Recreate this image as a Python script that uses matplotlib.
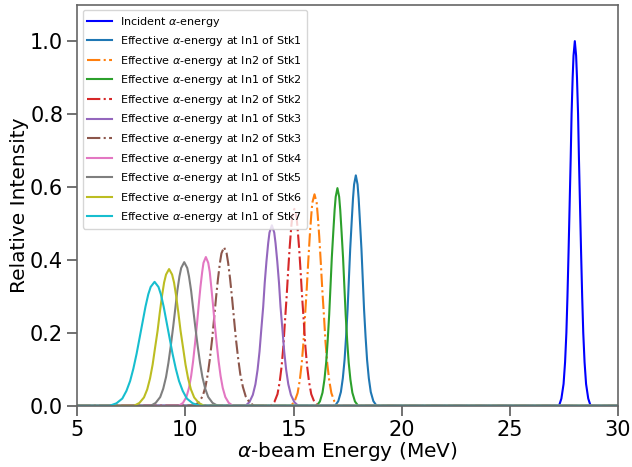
import numpy as np
import matplotlib
matplotlib.use("Agg")
import matplotlib.pyplot as plt

# Energy (MeV) / relative intensity points
inc_E = [5.0, 27.27, 27.38, 27.48, 27.55, 27.61, 27.66, 27.71, 27.76, 27.81, 27.85, 27.90, 27.94, 28.00,
         28.06, 28.10, 28.15, 28.19, 28.24, 28.29, 28.34, 28.39, 28.45, 28.52, 28.62, 28.73, 30.0]
inc_I = [0, 0, 0.02, 0.06, 0.12, 0.20, 0.30, 0.42, 0.55, 0.68, 0.80, 0.90, 0.96, 1.00,
         0.96, 0.90, 0.80, 0.68, 0.55, 0.42, 0.30, 0.20, 0.12, 0.06, 0.02, 0, 0]

stk1_in1_E = [5.0, 16.92, 17.07, 17.19, 17.28, 17.36, 17.43, 17.50, 17.56, 17.62, 17.69, 17.75, 17.80, 17.88,
              17.96, 18.01, 18.07, 18.14, 18.20, 18.26, 18.33, 18.40, 18.48, 18.57, 18.69, 18.84, 30.0]
stk1_in1_I = [0, 0, 0.013, 0.038, 0.076, 0.126, 0.190, 0.265, 0.348, 0.430, 0.506, 0.569, 0.607, 0.632,
              0.607, 0.569, 0.506, 0.430, 0.348, 0.265, 0.190, 0.126, 0.076, 0.038, 0.013, 0, 0]

stk1_in2_E = [5.0, 14.88, 15.05, 15.19, 15.29, 15.38, 15.46, 15.53, 15.61, 15.68, 15.75, 15.82, 15.87, 15.97,
              16.07, 16.12, 16.19, 16.26, 16.33, 16.41, 16.48, 16.56, 16.65, 16.75, 16.89, 17.06, 30.0]
stk1_in2_I = [0, 0, 0.012, 0.035, 0.070, 0.116, 0.174, 0.244, 0.319, 0.394, 0.464, 0.522, 0.557, 0.580,
              0.557, 0.522, 0.464, 0.394, 0.319, 0.244, 0.174, 0.116, 0.070, 0.035, 0.012, 0, 0]

stk2_in1_E = [5.0, 16.07, 16.22, 16.34, 16.43, 16.51, 16.58, 16.65, 16.71, 16.77, 16.84, 16.90, 16.95, 17.03,
              17.11, 17.16, 17.22, 17.29, 17.35, 17.41, 17.48, 17.55, 17.63, 17.72, 17.84, 17.99, 30.0]
stk2_in1_I = [0, 0, 0.012, 0.036, 0.072, 0.119, 0.179, 0.251, 0.328, 0.406, 0.478, 0.537, 0.573, 0.597,
              0.573, 0.537, 0.478, 0.406, 0.328, 0.251, 0.179, 0.119, 0.072, 0.036, 0.012, 0, 0]

stk2_in2_E = [5.0, 13.95, 14.12, 14.26, 14.36, 14.45, 14.53, 14.60, 14.68, 14.75, 14.82, 14.89, 14.94, 15.04,
              15.14, 15.19, 15.26, 15.33, 15.40, 15.48, 15.55, 15.63, 15.72, 15.82, 15.96, 16.13, 30.0]
stk2_in2_I = [0, 0, 0.011, 0.032, 0.065, 0.108, 0.162, 0.227, 0.297, 0.367, 0.432, 0.486, 0.518, 0.540,
              0.518, 0.486, 0.432, 0.367, 0.297, 0.227, 0.162, 0.108, 0.065, 0.032, 0.011, 0, 0]

stk3_in1_E = [5.0, 12.78, 12.96, 13.12, 13.24, 13.34, 13.43, 13.51, 13.60, 13.67, 13.75, 13.83, 13.89, 14.00,
              14.11, 14.17, 14.25, 14.33, 14.40, 14.49, 14.57, 14.66, 14.76, 14.88, 15.04, 15.22, 30.0]
stk3_in1_I = [0, 0, 0.010, 0.030, 0.059, 0.099, 0.149, 0.208, 0.272, 0.337, 0.396, 0.446, 0.475, 0.495,
              0.475, 0.446, 0.396, 0.337, 0.272, 0.208, 0.149, 0.099, 0.059, 0.030, 0.010, 0, 0]

stk3_in2_E = [5.0, 10.40, 10.61, 10.80, 10.93, 11.04, 11.14, 11.24, 11.33, 11.42, 11.51, 11.60, 11.67, 11.79,
              11.91, 11.98, 12.07, 12.16, 12.25, 12.34, 12.44, 12.54, 12.66, 12.79, 12.97, 13.18, 30.0]
stk3_in2_I = [0, 0, 0.009, 0.026, 0.052, 0.087, 0.131, 0.183, 0.239, 0.296, 0.348, 0.392, 0.418, 0.435,
              0.418, 0.392, 0.348, 0.296, 0.239, 0.183, 0.131, 0.087, 0.052, 0.026, 0.009, 0, 0]

stk4_in1_E = [5.0, 9.70, 9.89, 10.05, 10.17, 10.27, 10.36, 10.45, 10.54, 10.62, 10.70, 10.78, 10.84, 10.95,
              11.06, 11.13, 11.20, 11.28, 11.36, 11.45, 11.54, 11.63, 11.73, 11.85, 12.01, 12.20, 30.0]
stk4_in1_I = [0, 0, 0.008, 0.024, 0.049, 0.082, 0.122, 0.171, 0.224, 0.277, 0.326, 0.367, 0.392, 0.408,
              0.392, 0.367, 0.326, 0.277, 0.224, 0.171, 0.122, 0.082, 0.049, 0.024, 0.008, 0, 0]

stk5_in1_E = [5.0, 8.40, 8.63, 8.84, 8.98, 9.11, 9.22, 9.33, 9.44, 9.54, 9.63, 9.73, 9.81, 9.95,
              10.09, 10.17, 10.27, 10.36, 10.46, 10.57, 10.68, 10.79, 10.92, 11.06, 11.26, 11.50, 30.0]
stk5_in1_I = [0, 0, 0.008, 0.024, 0.047, 0.079, 0.118, 0.165, 0.217, 0.268, 0.315, 0.355, 0.378, 0.394,
              0.378, 0.355, 0.315, 0.268, 0.217, 0.165, 0.118, 0.079, 0.047, 0.024, 0.008, 0, 0]

stk6_in1_E = [5.0, 7.63, 7.88, 8.09, 8.24, 8.37, 8.49, 8.60, 8.72, 8.82, 8.92, 9.02, 9.11, 9.25,
              9.39, 9.48, 9.58, 9.68, 9.78, 9.90, 10.01, 10.13, 10.26, 10.41, 10.62, 10.87, 30.0]
stk6_in1_I = [0, 0, 0.008, 0.023, 0.045, 0.075, 0.113, 0.158, 0.206, 0.255, 0.300, 0.338, 0.360, 0.375,
              0.360, 0.338, 0.300, 0.255, 0.206, 0.158, 0.113, 0.075, 0.045, 0.023, 0.008, 0, 0]

stk7_in1_E = [5.0, 6.50, 6.82, 7.09, 7.28, 7.45, 7.60, 7.75, 7.89, 8.03, 8.16, 8.29, 8.40, 8.58,
              8.76, 8.87, 9.00, 9.13, 9.27, 9.41, 9.56, 9.71, 9.88, 10.07, 10.34, 10.66, 30.0]
stk7_in1_I = [0, 0, 0.007, 0.020, 0.041, 0.068, 0.102, 0.143, 0.187, 0.231, 0.272, 0.306, 0.326, 0.340,
              0.326, 0.306, 0.272, 0.231, 0.187, 0.143, 0.102, 0.068, 0.041, 0.020, 0.007, 0, 0]

series = [
    (inc_E, inc_I, "Incident $\\alpha$-energy", "blue", "-"),
    (stk1_in1_E, stk1_in1_I, "Effective $\\alpha$-energy at In1 of Stk1", "tab:blue", "-"),
    (stk1_in2_E, stk1_in2_I, "Effective $\\alpha$-energy at In2 of Stk1", "tab:orange", "-."),
    (stk2_in1_E, stk2_in1_I, "Effective $\\alpha$-energy at In1 of Stk2", "tab:green", "-"),
    (stk2_in2_E, stk2_in2_I, "Effective $\\alpha$-energy at In2 of Stk2", "tab:red", "-."),
    (stk3_in1_E, stk3_in1_I, "Effective $\\alpha$-energy at In1 of Stk3", "tab:purple", "-"),
    (stk3_in2_E, stk3_in2_I, "Effective $\\alpha$-energy at In2 of Stk3", "tab:brown", "-."),
    (stk4_in1_E, stk4_in1_I, "Effective $\\alpha$-energy at In1 of Stk4", "tab:pink", "-"),
    (stk5_in1_E, stk5_in1_I, "Effective $\\alpha$-energy at In1 of Stk5", "tab:gray", "-"),
    (stk6_in1_E, stk6_in1_I, "Effective $\\alpha$-energy at In1 of Stk6", "tab:olive", "-"),
    (stk7_in1_E, stk7_in1_I, "Effective $\\alpha$-energy at In1 of Stk7", "tab:cyan", "-"),
]

fig = plt.figure(figsize=(6.32, 4.67), dpi=100)
ax = fig.add_axes([0.122, 0.131, 0.856, 0.859])

for E, I, label, color, ls in series:
    ax.plot(E, I, color=color, linestyle=ls, linewidth=1.5, label=label)

ax.set_xlim(5, 30)
ax.set_ylim(0, 1.1)
ax.set_xticks([5, 10, 15, 20, 25, 30])
ax.set_yticks([0.0, 0.2, 0.4, 0.6, 0.8, 1.0])
ax.tick_params(labelsize=15, length=7, width=1.3, color="0.4", pad=3)
for sp in ax.spines.values():
    sp.set_color("0.4")
    sp.set_linewidth(1.2)

ax.set_xlabel("$\\alpha$-beam Energy (MeV)", fontsize=14.5, labelpad=0)
ax.set_ylabel("Relative Intensity", fontsize=14.5, labelpad=1)
ax.legend(loc="upper left", fontsize=8, handlelength=2.2)

fig.savefig("out.png", dpi=100)
